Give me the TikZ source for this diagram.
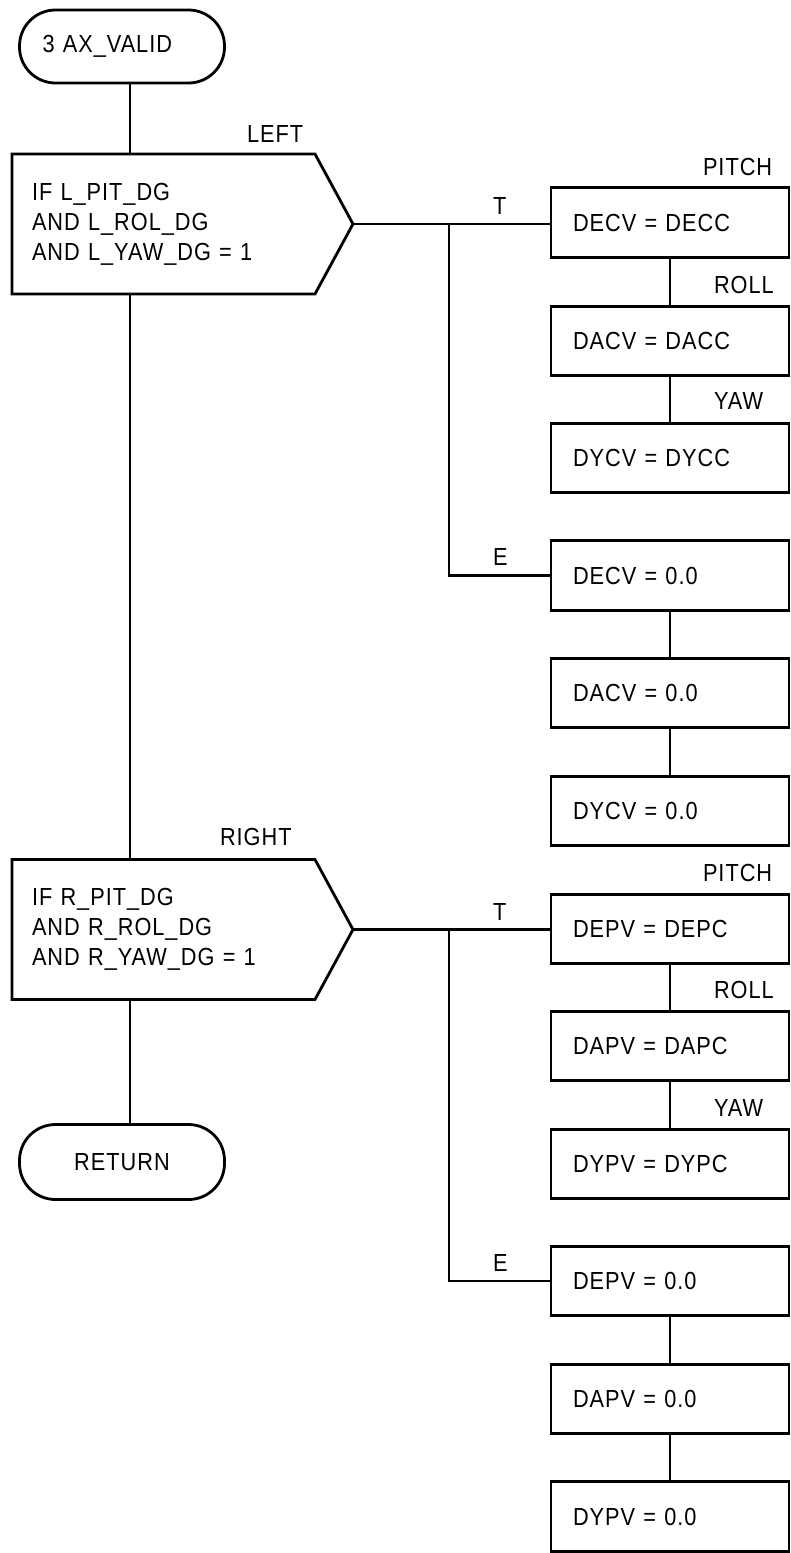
\documentclass[tikz,border=0pt]{standalone}
\usepackage{fontspec}
\setmainfont{Liberation Sans}[FakeStretch=0.88, LetterSpace=4]
\begin{document}
\begin{tikzpicture}[x=1pt,y=-1pt, line width=2.8pt,
  every node/.style={font=\fontsize{24.7}{30}\selectfont, inner sep=0pt, outer sep=0pt},
  proc/.style={draw, rectangle, minimum width=238pt, minimum height=69.5pt, text width=194pt, inner xsep=22pt, align=left},
  term/.style={draw, rectangle, rounded corners=36pt, minimum width=205pt, text width=159pt, inner xsep=23pt},
  dec/.style={rectangle, minimum width=341pt, minimum height=140pt, text width=301pt, inner xsep=20pt, align=left},
  lbl/.style={anchor=base west}]
\useasboundingbox (0,0) rectangle (790,1553);
% terminals
\node[term, minimum height=73pt, align=left] (start) at (122,46.5) {3 AX\_VALID};
\node[term, minimum height=75pt, align=center] (ret) at (122,1162) {RETURN};
% decisions
\node[dec] (d1) at (182.5,224) {IF L\_PIT\_DG\\AND L\_ROL\_DG\\AND L\_YAW\_DG = 1};
\node[dec] (d2) at (182.5,929.5) {IF R\_PIT\_DG\\AND R\_ROL\_DG\\AND R\_YAW\_DG = 1};
\foreach \d in {d1,d2}{
  \draw (\d.north west) -- ([xshift=-38pt]\d.north east) -- (\d.east) -- ([xshift=-38pt]\d.south east) -- (\d.south west) -- cycle;
}
% process boxes
\node[proc] (b1) at (670,222.5) {DECV = DECC};
\node[proc] (b2) at (670,341) {DACV = DACC};
\node[proc] (b3) at (670,458) {DYCV = DYCC};
\node[proc] (e1) at (670,575.5) {DECV = 0.0};
\node[proc] (e2) at (670,693) {DACV = 0.0};
\node[proc] (e3) at (670,811) {DYCV = 0.0};
\node[proc] (p1) at (670,929) {DEPV = DEPC};
\node[proc] (p2) at (670,1046) {DAPV = DAPC};
\node[proc] (p3) at (670,1164) {DYPV = DYPC};
\node[proc] (q1) at (670,1281) {DEPV = 0.0};
\node[proc] (q2) at (670,1399) {DAPV = 0.0};
\node[proc] (q3) at (670,1516.5) {DYPV = 0.0};
% labels
\node[lbl] (lleft) at (247,142) {LEFT};
\node[lbl] (lright) at (220,845) {RIGHT};
\node[lbl] (lt1) at (493,214) {T};
\node[lbl] (le1) at (493,565) {E};
\node[lbl] (lt2) at (493,920) {T};
\node[lbl] (le2) at (493,1271) {E};
\node[lbl] (lp1) at (703,175) {PITCH};
\node[lbl] (lr1) at (714,293) {ROLL};
\node[lbl] (ly1) at (714,409) {YAW};
\node[lbl] (lp2) at (703,881) {PITCH};
\node[lbl] (lr2) at (714,998) {ROLL};
\node[lbl] (ly2) at (714,1116) {YAW};
% main line
\coordinate (m) at (130,0);
\draw (start.south -| m) -- (d1.north -| m);
\draw (d1.south -| m) -- (d2.north -| m);
\draw (d2.south -| m) -- (ret.north -| m);
% branches
\coordinate (jx) at (449,0);
\draw (d1.east) -- (d1.east -| b1.west);
\coordinate (j1) at (d1.east -| jx);
\draw (j1) |- (e1.west);
\draw (d2.east) -- (d2.east -| p1.west);
\coordinate (j2) at (d2.east -| jx);
\draw (j2) |- (q1.west);
% chains
\draw (b1) -- (b2); \draw (b2) -- (b3);
\draw (e1) -- (e2); \draw (e2) -- (e3);
\draw (p1) -- (p2); \draw (p2) -- (p3);
\draw (q1) -- (q2); \draw (q2) -- (q3);
\end{tikzpicture}
\end{document}
